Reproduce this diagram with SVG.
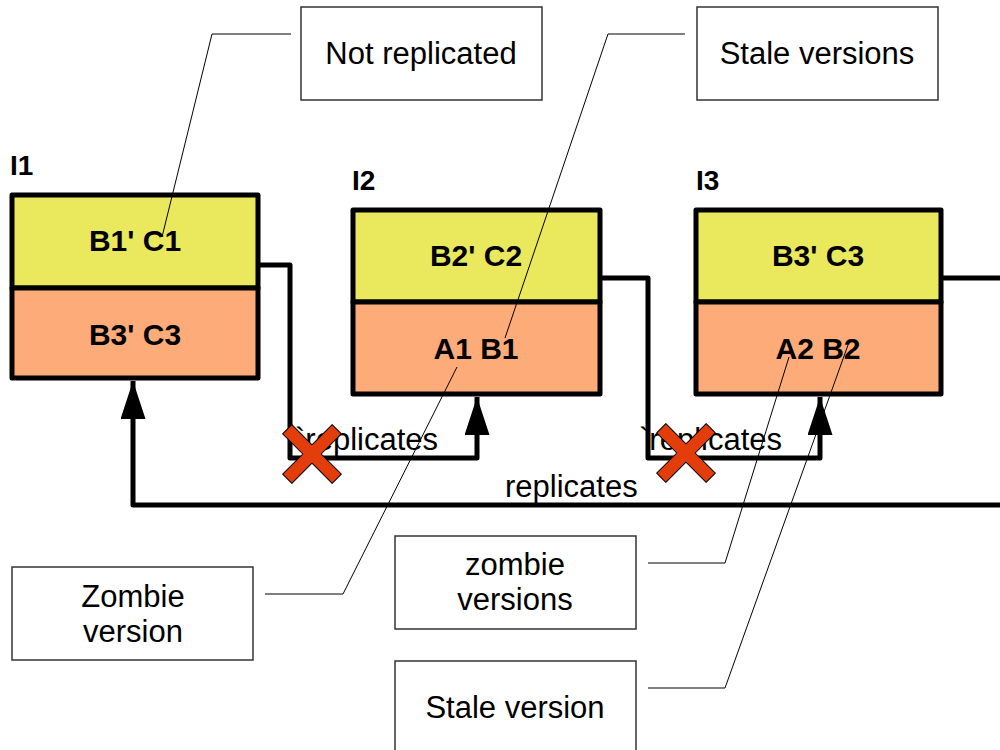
<svg xmlns="http://www.w3.org/2000/svg" xmlns:xlink="http://www.w3.org/1999/xlink" width="1000" height="750" viewBox="0 0 1000 750">
  <style>
    .frame { stroke: #000; stroke-width: 5; stroke-linejoin: round; }
    .top { fill: #eae85c; }
    .bottom { fill: #fdac79; }
    .cell { font-family: "Liberation Sans", Arial, sans-serif; font-weight: bold; font-size: 30px; text-anchor: middle; fill: #000; }
    .inst { font-family: "Liberation Sans", Arial, sans-serif; font-weight: bold; font-size: 28px; fill: #000; }
    .link { fill: none; stroke: #000; stroke-width: 5; stroke-linejoin: round; }
    .lbl { font-family: "Liberation Sans", Arial, sans-serif; font-size: 31px; fill: #000; }
    .note { fill: #fff; stroke: #333; stroke-width: 1.5; }
    .notetext { font-family: "Liberation Sans", Arial, sans-serif; font-size: 31px; text-anchor: middle; fill: #000; }
    .leader { fill: none; stroke: #000; stroke-width: 1; }
    .cross { fill: #e23d0a; stroke: #000; stroke-width: 1; stroke-linejoin: round; }
  </style>
  <defs>
    <marker id="arrow" markerUnits="userSpaceOnUse" markerWidth="38" markerHeight="25" refX="38" refY="12.5" viewBox="0 0 38 25" orient="auto">
      <path d="M0,0 L38,12.5 L0,25 Z" fill="#000"/>
    </marker>
    <polygon id="xmark" points="-6.5,-35 6.5,-35 6.5,-6.5 35,-6.5 35,6.5 6.5,6.5 6.5,35 -6.5,35 -6.5,6.5 -35,6.5 -35,-6.5 -6.5,-6.5"/>
  </defs>

  <rect width="1000" height="750" fill="#fff"/>

  <!-- replication links -->
  <g id="connectors">
    <path class="link" d="M258,265 H290 V458 H477 V397" marker-end="url(#arrow)"/>
    <path class="link" d="M600,278 H648 V458 H820 V397" marker-end="url(#arrow)"/>
    <path class="link" d="M941,278 H1010 V505 H133 V381" marker-end="url(#arrow)"/>
    <text class="lbl" x="295" y="450">`replicates</text>
    <text class="lbl" x="639" y="450">`replicates</text>
    <text class="lbl" x="505" y="497">replicates</text>
    <use xlink:href="#xmark" class="cross" transform="translate(312,454) rotate(45)"/>
    <use xlink:href="#xmark" class="cross" transform="translate(686,453) rotate(45)"/>
  </g>

  <!-- instance I1 -->
  <g id="node-i1">
    <text class="inst" x="10" y="175">I1</text>
    <rect class="frame top" x="12" y="195" width="246" height="93"/>
    <rect class="frame bottom" x="12" y="288" width="246" height="90"/>
    <text class="cell" x="135" y="251">B1' C1</text>
    <text class="cell" x="135" y="345">B3' C3</text>
  </g>

  <!-- instance I2 -->
  <g id="node-i2">
    <text class="inst" x="352" y="190">I2</text>
    <rect class="frame top" x="353" y="210" width="247" height="92"/>
    <rect class="frame bottom" x="353" y="302" width="247" height="92"/>
    <text class="cell" x="476" y="266">B2' C2</text>
    <text class="cell" x="476" y="359">A1 B1</text>
  </g>

  <!-- instance I3 -->
  <g id="node-i3">
    <text class="inst" x="696" y="190">I3</text>
    <rect class="frame top" x="696" y="210" width="245" height="92"/>
    <rect class="frame bottom" x="696" y="302" width="245" height="92"/>
    <text class="cell" x="818" y="266">B3' C3</text>
    <text class="cell" x="818" y="359">A2 B2</text>
  </g>

  <!-- annotation callouts -->
  <g id="note-not-replicated">
    <rect class="note" x="301" y="7" width="241" height="93"/>
    <text class="notetext" x="421" y="64">Not replicated</text>
    <path class="leader" d="M291,34 H212 L162,237"/>
  </g>

  <g id="note-stale-versions">
    <rect class="note" x="697" y="7" width="241" height="93"/>
    <text class="notetext" x="817" y="64">Stale versions</text>
    <path class="leader" d="M685,34 H608 L505,338"/>
  </g>

  <g id="note-zombie-version">
    <rect class="note" x="12" y="567" width="241" height="93"/>
    <text class="notetext" x="133" y="607">Zombie</text>
    <text class="notetext" x="133" y="642">version</text>
    <path class="leader" d="M265,594 H343 L457,367"/>
  </g>

  <g id="note-zombie-versions">
    <rect class="note" x="395" y="536" width="241" height="93"/>
    <text class="notetext" x="515" y="575">zombie</text>
    <text class="notetext" x="515" y="610">versions</text>
    <path class="leader" d="M648,563 H725 L789,357"/>
  </g>

  <g id="note-stale-version">
    <rect class="note" x="395" y="661" width="241" height="100"/>
    <text class="notetext" x="515" y="718">Stale version</text>
    <path class="leader" d="M648,688 H725 L848,345"/>
  </g>
</svg>
